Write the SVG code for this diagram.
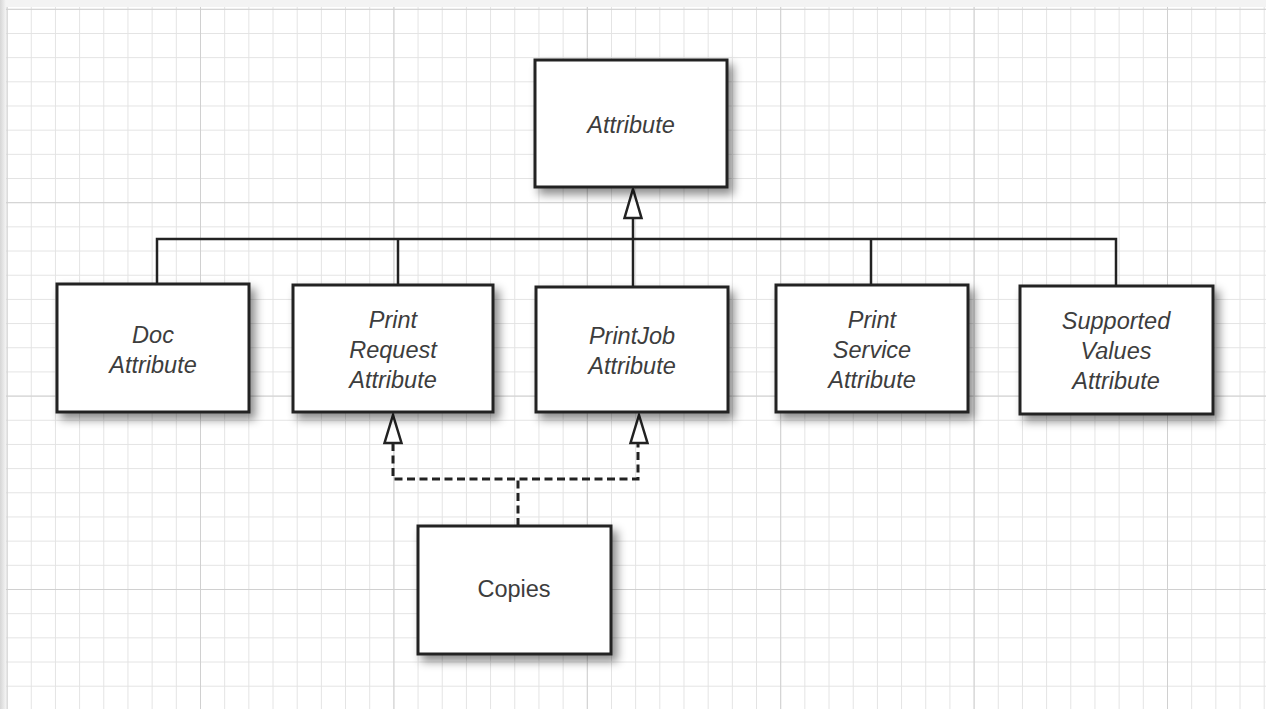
<svg xmlns="http://www.w3.org/2000/svg" width="1266" height="709" viewBox="0 0 1266 709">
  <style>
    .box { fill: #ffffff; stroke: #222222; stroke-width: 3; }
    .lbl { font-family: "Liberation Sans", Arial, sans-serif; font-size: 23.5px; font-style: italic; fill: #3d3d3d; text-anchor: middle; }
    .plain { font-style: normal; }
    .conn { fill: none; stroke: #222222; stroke-width: 2.5; }
    .dash { fill: none; stroke: #222222; stroke-width: 3; stroke-dasharray: 8 4.5; }
  </style>
  <defs>
    <pattern id="minor" x="6.6" y="8.8" width="24.175" height="24.175" patternUnits="userSpaceOnUse">
      <path d="M0 0 V24.175 M0 0 H24.175" fill="none" stroke="#e3e3e3" stroke-width="2"/>
    </pattern>
    <pattern id="major" x="6.6" y="8.8" width="193.4" height="193.4" patternUnits="userSpaceOnUse">
      <path d="M0 0 V193.4 M0 0 H193.4" fill="none" stroke="#d0d0d0" stroke-width="2"/>
    </pattern>
    <linearGradient id="edgeL" x1="0" y1="0" x2="1" y2="0">
      <stop offset="0" stop-color="#d6d6d6"/>
      <stop offset="1" stop-color="#f4f4f4"/>
    </linearGradient>
    <filter id="shadow" x="-15%" y="-15%" width="140%" height="145%">
      <feDropShadow dx="5" dy="6" stdDeviation="5" flood-color="#000000" flood-opacity="0.45"/>
    </filter>
  </defs>

  <g id="background">
    <rect x="0" y="0" width="1266" height="709" fill="#ffffff"/>
    <rect x="0" y="0" width="1266" height="709" fill="url(#minor)"/>
    <rect x="0" y="0" width="1266" height="709" fill="url(#major)"/>
    <rect x="0" y="0" width="1266" height="7" fill="#f3f3f3"/>
    <rect x="0" y="0" width="6" height="709" fill="url(#edgeL)"/>
  </g>

  <g id="connectors">
    <path class="conn" d="M157 284 V239 H1116 V286"/>
    <path class="conn" d="M398 285 V239"/>
    <path class="conn" d="M871 285 V239"/>
    <path class="conn" d="M633 287 V218"/>
    <path d="M633 189 L641.5 218 L624.5 218 Z" fill="#ffffff" stroke="#222222" stroke-width="2.5"/>
    <path class="dash" d="M518 526 V479"/>
    <path class="dash" d="M393 443 V479 H638 V443"/>
    <path d="M393 415 L401.5 443 L384.5 443 Z" fill="#ffffff" stroke="#222222" stroke-width="2.5"/>
    <path d="M639 415 L647.5 443 L630.5 443 Z" fill="#ffffff" stroke="#222222" stroke-width="2.5"/>
  </g>

  <g id="node-attribute">
    <rect class="box" x="535" y="60" width="192" height="127" filter="url(#shadow)"/>
    <text class="lbl" x="631" y="133">Attribute</text>
  </g>
  <g id="node-doc">
    <rect class="box" x="57" y="284" width="192" height="128" filter="url(#shadow)"/>
    <text class="lbl" x="153" y="343">Doc</text>
    <text class="lbl" x="153" y="373">Attribute</text>
  </g>
  <g id="node-printrequest">
    <rect class="box" x="293" y="285" width="200" height="127" filter="url(#shadow)"/>
    <text class="lbl" x="393" y="328">Print</text>
    <text class="lbl" x="393" y="358">Request</text>
    <text class="lbl" x="393" y="388">Attribute</text>
  </g>
  <g id="node-printjob">
    <rect class="box" x="536" y="287" width="192" height="125" filter="url(#shadow)"/>
    <text class="lbl" x="632" y="344">PrintJob</text>
    <text class="lbl" x="632" y="374">Attribute</text>
  </g>
  <g id="node-printservice">
    <rect class="box" x="776" y="285" width="192" height="127" filter="url(#shadow)"/>
    <text class="lbl" x="872" y="328">Print</text>
    <text class="lbl" x="872" y="358">Service</text>
    <text class="lbl" x="872" y="388">Attribute</text>
  </g>
  <g id="node-supported">
    <rect class="box" x="1020" y="286" width="193" height="128" filter="url(#shadow)"/>
    <text class="lbl" x="1116" y="329">Supported</text>
    <text class="lbl" x="1116" y="359">Values</text>
    <text class="lbl" x="1116" y="389">Attribute</text>
  </g>
  <g id="node-copies">
    <rect class="box" x="418" y="526" width="193" height="128" filter="url(#shadow)"/>
    <text class="lbl plain" x="514" y="597">Copies</text>
  </g>
</svg>
